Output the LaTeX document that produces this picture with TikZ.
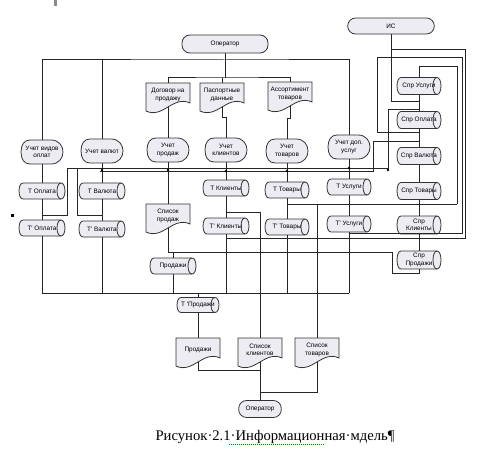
\documentclass[tikz,border=0pt]{standalone}
\usepackage{fontspec}
\setmainfont{Liberation Serif}
\newfontfamily\lblfont{Liberation Sans}
\usetikzlibrary{calc}
\definecolor{boxfill}{RGB}{236,236,242}
\tikzset{
  con/.style={draw=black!85, line width=0.75pt},
  shp/.style={draw=black!80, line width=0.6pt, fill=boxfill},
  shpl/.style={draw=black!80, line width=0.6pt},
  lbl/.style={inner sep=0pt, align=center, font=\lblfont\fontsize{4.8}{5.4}\selectfont},
  term/.style={lbl, shp, rounded corners=6pt},
  jdot/.style={fill=black},
}
% cylinder: name, x, y, w, h, text
\newcommand\dcyl[6]{%
  \draw[shp] ({#2-#4/2+4},{#3-#5/2}) -- ({#2+#4/2-4},{#3-#5/2})
     .. controls +(5.3,0) and +(5.3,0) .. ({#2+#4/2-4},{#3+#5/2})
     -- ({#2-#4/2+4},{#3+#5/2})
     .. controls +(-5.3,0) and +(-5.3,0) .. ({#2-#4/2+4},{#3-#5/2}) -- cycle;
  \draw[shpl] ({#2+#4/2-4},{#3-#5/2}) .. controls +(-5.3,0) and +(-5.3,0) .. ({#2+#4/2-4},{#3+#5/2});
  \node[lbl, minimum width=#4*0.75pt, minimum height=#5*0.75pt] (#1) at (#2,#3) {#6};
}
% document: name, x, y, text
\newcommand\doc[4]{%
  \draw[shp] ({#2-22},{#3-12}) -- ({#2+22},{#3-12}) -- ({#2+22},{#3+8})
     .. controls +(-17,-8) and +(17,8) .. ({#2-22},{#3+16}) -- cycle;
  \node[lbl, minimum width=33pt, minimum height=18pt] (#1) at (#2,#3) {#4};
}
% display: name, x, y, text
\newcommand\disp[4]{%
  \draw[shp] ({#2-12},{#3-12}) -- ({#2+9},{#3-12})
     .. controls +(16,0) and +(16,0) .. ({#2+9},{#3+12})
     -- ({#2-12},{#3+12})
     .. controls +(-6,0) and +(0,7) .. ({#2-21},{#3})
     .. controls +(0,-7) and +(-6,0) .. ({#2-12},{#3-12}) -- cycle;
  \node[lbl, minimum width=31.5pt, minimum height=18pt] (#1) at (#2,#3) {#4};
}
\begin{document}
\begin{tikzpicture}[x=0.75pt,y=-0.75pt]
\fill[white] (0,0) rectangle (479,460);
\useasboundingbox (0,0) rectangle (479,460);

% ---------- shapes ----------
\node[term, minimum width=64.5pt, minimum height=13.5pt] (op1) at (225,44) {Оператор};
\node[term, minimum width=65pt, minimum height=12pt] (is) at (391,26) {ИС};

\doc{dog}{168}{95}{Договор на\\продажу}
\doc{pas}{222}{95}{Паспортные\\данные}
\doc{ass}{290}{94}{Ассортимент\\товаров}

\disp{u1}{42}{152}{Учет видов\\оплат}
\disp{u2}{102}{151}{Учет валют}
\disp{u3}{168}{150}{Учет\\продаж}
\disp{u4}{226}{150}{Учет\\клиентов}
\disp{u5}{287}{151}{Учет\\товаров}
\disp{u6}{349}{147}{Учет доп.\\услуг}

\dcyl{tO}{42}{191}{46}{16}{Т Оплата}
\dcyl{tO2}{42}{228}{46}{16}{Т' Оплата}
\dcyl{tV}{102}{191}{46}{16}{Т Валюта}
\dcyl{tV2}{102}{229}{46}{16}{Т' Валюта}
\dcyl{tK}{226}{188}{46}{16}{Т Клиенты}
\dcyl{tK2}{226}{226}{46}{16}{Т' Клиенты}
\dcyl{tT}{287}{190}{44}{16}{Т Товары}
\dcyl{tT2}{287}{227}{44}{16}{Т' Товары}
\dcyl{tU}{349}{187}{44}{16}{Т Услуги}
\dcyl{tU2}{349}{224}{44}{16}{Т' Услуги}

\dcyl{s1}{419}{86}{44}{17}{Спр Услуги}
\dcyl{s2}{419}{120}{44}{17}{Спр Оплата}
\dcyl{s3}{419}{156}{44}{17}{Спр Валюта}
\dcyl{s4}{419}{191}{44}{17}{Спр Товары}
\dcyl{s5}{419}{225}{44}{18}{Спр\\Клиенты}
\dcyl{s6}{419}{260}{44}{18}{Спр\\Продажи}

\doc{sp}{168}{216}{Список\\продаж}
\dcyl{pr}{173}{266}{46}{16}{Продажи}
\dcyl{tp}{198}{305}{42}{15}{Т 'Продажи}

\doc{d1}{198}{350}{Продажи}
\doc{d2}{260}{350}{Список\\клиентов}
\doc{d3}{317}{350}{Список\\товаров}
\node[term, minimum width=32pt, minimum height=12.75pt] (op2) at (260,409) {Оператор};

% ---------- junction coordinates ----------
\coordinate (T1) at (225,60);
\coordinate (T2) at (225,78);
\coordinate (BA) at (67,169);
\coordinate (BB) at (388,169);
\coordinate (LA) at (100,172);
\coordinate (LB) at (373,172);
\coordinate (BL) at (42,293);
\coordinate (BR) at (349,293);
\coordinate (SC) at (419,67);

% ---------- top part ----------
\draw[con] (op1.south) -- (T1);
\draw[con] (u1.north) |- (T1) -| (u6.north);
\draw[con] (u2.north) -- (u2.north |- T1);
\draw[con] (T1) -- (T2);
\draw[con] (dog.north) |- (T2) -| (ass.north);
\draw[con] (pas.north) -- (pas.north |- T2);
\draw[con] (dog.south) -- (u3.north);
\draw[con] (pas.south) -- ++(0,10) -| (u4.north);
\draw[con] (ass.south) -- ++(0,12) -| (u5.north);

% ---------- buses ----------
\draw[con] (BA) -- (BB) -- (388,110) -- (419,110);
\draw[con] (LA) -- (LB) -- (373,142) -- (419,142);
\draw[con] (BL) -- (BR);

% ---------- columns ----------
\draw[con] (u1.south) -- (tO.north);
\draw[con] (tO.south) -- (tO2.north);
\draw[con] (tO2.south) -- (BL);
\draw[con] (BA) |- (42,215);

\draw[con] (u2.south) -- (tV.north);
\draw[con] (tV.south) -- (tV2.north);
\draw[con] (tV2.south) -- (tV2.south |- BL);
\draw[con] (77,169) |- (102,215);

\draw[con] (u3.south) -- (sp.north);
\draw[con] (sp.south) |- (392,252) |- (419,273) -- (s6.south);
\draw[con] (173,252) -- (pr.north);
\draw[con] (pr.south) -- (pr.south |- BL);

\draw[con] (u4.south) -- (tK.north);
\draw[con] (tK.south) -- (tK2.north);
\draw[con] (tK2.south) -- (tK2.south |- BL);
\draw[con] (226,212) -| (d2.north);

\draw[con] (u5.south) -- (tT.north);
\draw[con] (tT.south) -- (tT2.north);
\draw[con] (tT2.south) -- (tT2.south |- BL);
\draw[con] (287,204) -- (457,204);
\draw[con] (317,204) -- (d3.north);

\draw[con] (u6.south) -- (tU.north);
\draw[con] (tU.south) -- (tU2.north);
\draw[con] (tU2.south) -- (BR);

% ---------- reference column ----------
\draw[con] (SC) -- (s1.north);
\draw[con] (s1.south) -- (s2.north);
\draw[con] (s2.south) -- (s3.north);
\draw[con] (s3.south) -- (s4.north);
\draw[con] (s4.south) -- (s5.north);
\draw[con] (s5.south) -- (s6.north);
\draw[con] (is.south) |- (419,102);
\draw[con] (391,50) -| (465,238) -- (226,238);
\draw[con] (419,133) -| (377,58) -| (462,233) -- (349,233);
\draw[con] (SC) -| (457,204);

% ---------- bottom part ----------
\draw[con] (tp.north) -- (tp.north |- BL);
\draw[con] (tp.south) -- (d1.north);
\draw[con] (d1.south) |- (260,370);
\draw[con] (d2.south) -- (op2.north);
\draw[con] (d3.south) |- (260,392);

% junction dots
\foreach \p in {(102,170),(168,170),(287,171),(349,168),(226,171),(388,170)}
  \fill[jdot] \p circle[radius=1.3];

% small marks
\fill[black] (10.5,213.5) rectangle (13.5,216.5);
\fill[black!45] (54,0) rectangle (57,6);

% caption
\node[font=\fontsize{11}{13}\selectfont, inner sep=0pt] (cap) at (275,437) {Рисунок·2.1·Информационная·мдель¶};
\draw[green!55!black, densely dotted, line width=0.5pt] (229,444) -- (324,444);
\end{tikzpicture}
\end{document}
